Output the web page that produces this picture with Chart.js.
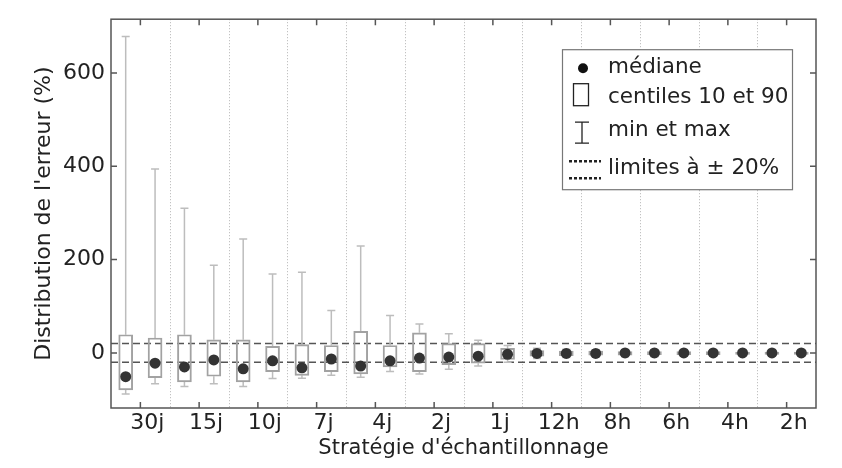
<!DOCTYPE html>
<html>
<head>
<meta charset="utf-8">
<script src="https://cdn.jsdelivr.net/npm/chart.js@4.4.1/dist/chart.umd.min.js"></script>
<style>
  html, body { margin: 0; padding: 0; background: #fff; }
</style>
</head>
<body>
<canvas id="errChart" width="842" height="468"></canvas>
<script>
const strategies = ['30j', '15j', '10j', '7j', '4j', '2j', '1j', '12h', '8h', '6h', '4h', '2h']
const yTicks = [0, 200, 400, 600]
const limits = [-20, 20]

// boîte de gauche de chaque paire
const maxA = [678, 310, 244, 173, 229, 62, 27, 10, 7, 6, 6, 5]
const p90A = [39, 39, 28, 18, 46, 43, 20, 5, 4, 3, 3, 2]
const medA = [-51, -30, -34, -32, -28, -11, -7, -1, -1, 0, 0, 0]
const p10A = [-79, -62, -62, -48, -45, -40, -22, -7, -5, -4, -4, -3]
const minA = [-88, -72, -72, -54, -52, -45, -28, -12, -9, -8, -7, -6]

// boîte de droite de chaque paire
const maxB = [394, 188, 169, 91, 80, 41, 16, 8, 7, 6, 5, 5]
const p90B = [32, 28, 14, 16, 16, 20, 10, 4, 3, 3, 2, 2]
const medB = [-22, -15, -17, -13, -17, -9, -3, -1, 0, 0, 0, 0]
const p10B = [-53, -50, -40, -40, -30, -25, -14, -6, -5, -4, -3, -3]
const minB = [-66, -66, -55, -48, -40, -35, -20, -10, -8, -7, -6, -6]

const posA = strategies.map((_, i) => 2 * i + 0.5)
const posB = strategies.map((_, i) => 2 * i + 1.5)

const boxColor = '#a2a2a2'
const whiskerColor = '#bdbdbd'
const medianColor = '#333333'
const txtFont = "'DejaVu Sans', Verdana, sans-serif"

function boxData(pos, lo, hi) {
  return pos.map((x, i) => ({ x: x, y: [lo[i], hi[i]] }))
}
function pointData(pos, vals) {
  return pos.map((x, i) => ({ x: x, y: vals[i] }))
}

const boxExtras = {
  id: 'boxExtras',
  beforeDatasetsDraw(chart) {
    const { ctx, chartArea: a } = chart
    const xs = chart.scales.x
    const ys = chart.scales.y
    ctx.save()
    // séparateurs pointillés entre les stratégies
    ctx.setLineDash([1, 2])
    ctx.strokeStyle = '#b4b4b4'
    ctx.lineWidth = 1
    for (let v = 2; v < 24; v += 2) {
      const px = Math.round(xs.getPixelForValue(v)) + 0.5
      ctx.beginPath(); ctx.moveTo(px, a.top); ctx.lineTo(px, a.bottom); ctx.stroke()
    }
    // limites à ±20%
    ctx.setLineDash([7, 4])
    ctx.strokeStyle = '#555'
    ctx.lineWidth = 1.5
    limits.forEach(l => {
      const py = ys.getPixelForValue(l)
      ctx.beginPath(); ctx.moveTo(a.left, py); ctx.lineTo(a.right, py); ctx.stroke()
    })
    // moustaches min / max
    ctx.setLineDash([])
    ctx.strokeStyle = whiskerColor
    ctx.lineWidth = 1.5
    const drawWhisk = (pos, mn, lo, hi, mx) => {
      pos.forEach((v, i) => {
        const px = xs.getPixelForValue(v)
        const yMax = ys.getPixelForValue(mx[i]), yHi = ys.getPixelForValue(hi[i])
        const yLo = ys.getPixelForValue(lo[i]), yMin = ys.getPixelForValue(mn[i])
        ctx.beginPath()
        ctx.moveTo(px, yMax); ctx.lineTo(px, yHi)
        ctx.moveTo(px, yLo); ctx.lineTo(px, yMin)
        ctx.moveTo(px - 4, yMax); ctx.lineTo(px + 4, yMax)
        ctx.moveTo(px - 4, yMin); ctx.lineTo(px + 4, yMin)
        ctx.stroke()
      })
    }
    drawWhisk(posA, minA, p10A, p90A, maxA)
    drawWhisk(posB, minB, p10B, p90B, maxB)
    ctx.restore()
  },
  afterDraw(chart) {
    const { ctx, chartArea: a } = chart
    const xs = chart.scales.x
    const ys = chart.scales.y
    ctx.save()
    // cadre et graduations intérieures
    ctx.strokeStyle = '#555'
    ctx.lineWidth = 1.5
    ctx.strokeRect(a.left, a.top, a.right - a.left, a.bottom - a.top)
    ctx.beginPath()
    strategies.forEach((_, i) => {
      const px = xs.getPixelForValue(2 * i + 1)
      ctx.moveTo(px, a.top); ctx.lineTo(px, a.top + 6)
      ctx.moveTo(px, a.bottom); ctx.lineTo(px, a.bottom - 6)
    })
    yTicks.forEach(v => {
      const py = ys.getPixelForValue(v)
      ctx.moveTo(a.left, py); ctx.lineTo(a.left + 6, py)
      ctx.moveTo(a.right, py); ctx.lineTo(a.right - 6, py)
    })
    ctx.stroke()

    // légende
    const lx = a.right - 254, ly = a.top + 30
    ctx.fillStyle = '#fff'
    ctx.fillRect(lx, ly, 230, 140)
    ctx.strokeStyle = '#777'
    ctx.lineWidth = 1.2
    ctx.strokeRect(lx + 0.5, ly + 0.5, 230, 140)
    ctx.fillStyle = '#111'
    ctx.beginPath(); ctx.arc(lx + 21, ly + 19, 5, 0, Math.PI * 2); ctx.fill()
    ctx.strokeStyle = '#222'
    ctx.lineWidth = 1.3
    ctx.strokeRect(lx + 11.5, ly + 34.5, 15, 22)
    ctx.beginPath()
    ctx.moveTo(lx + 20, ly + 73); ctx.lineTo(lx + 20, ly + 94)
    ctx.moveTo(lx + 13, ly + 73); ctx.lineTo(lx + 27, ly + 73)
    ctx.moveTo(lx + 13, ly + 94); ctx.lineTo(lx + 27, ly + 94)
    ctx.stroke()
    ctx.setLineDash([3, 2])
    ctx.lineWidth = 2.5
    ctx.beginPath()
    ctx.moveTo(lx + 7, ly + 112); ctx.lineTo(lx + 39, ly + 112)
    ctx.moveTo(lx + 7, ly + 129); ctx.lineTo(lx + 39, ly + 129)
    ctx.stroke()
    ctx.setLineDash([])
    ctx.fillStyle = '#222'
    ctx.font = "21.5px 'DejaVu Sans', Verdana, sans-serif"
    ctx.textBaseline = 'middle'
    ctx.textAlign = 'left'
    ctx.fillText('médiane', lx + 46, ly + 18)
    ctx.fillText('centiles 10 et 90', lx + 46, ly + 48)
    ctx.fillText('min et max', lx + 46, ly + 81)
    ctx.fillText('limites à ± 20%', lx + 46, ly + 119)
    ctx.restore()
  }
}

const boxStyle = {
  type: 'bar',
  grouped: false,
  backgroundColor: 'rgba(0,0,0,0)',
  borderColor: boxColor,
  borderWidth: 1.3,
  borderSkipped: false,
  barThickness: 14
}
const medStyle = {
  type: 'line',
  showLine: false,
  pointRadius: 5.5,
  pointBackgroundColor: medianColor,
  pointBorderColor: medianColor,
  pointBorderWidth: 0
}

new Chart(document.getElementById('errChart'), {
  type: 'bar',
  data: {
    datasets: [
      { ...medStyle, label: 'médiane A', data: pointData(posA, medA), order: 0 },
      { ...medStyle, label: 'médiane B', data: pointData(posB, medB), order: 0 },
      { ...boxStyle, label: 'centiles A', data: boxData(posA, p10A, p90A), order: 1 },
      { ...boxStyle, label: 'centiles B', data: boxData(posB, p10B, p90B), order: 1 },
    ],
  },
  options: {
    responsive: false,
    animation: false,
    layout: { padding: { top: 13, right: 26, left: 0, bottom: 0 } },
    plugins: { legend: { display: false }, tooltip: { enabled: false } },
    scales: {
      x: {
        type: 'linear',
        min: 0,
        max: 24,
        offset: false,
        grid: { display: false, drawTicks: false },
        border: { display: false },
        afterBuildTicks: s => { s.ticks = strategies.map((_, i) => ({ value: 2 * i + 1 })) },
        afterFit: s => { s.height = 60 },
        ticks: {
          callback: (v, i) => strategies[i],
          autoSkip: false,
          maxRotation: 0,
          labelOffset: 7,
          padding: 2,
          color: '#222',
          font: { family: txtFont, size: 22 },
        },
        title: {
          display: true,
          text: "Stratégie d'échantillonnage",
          color: '#222',
          font: { family: txtFont, size: 21 },
          padding: { top: 0, bottom: 7 },
        },
      },
      y: {
        min: -118,
        max: 715,
        grid: { display: false, drawTicks: false },
        border: { display: false },
        afterBuildTicks: s => { s.ticks = yTicks.map(v => ({ value: v })) },
        afterFit: s => { s.width = 111 },
        ticks: {
          padding: 6,
          color: '#222',
          font: { family: txtFont, size: 22 },
        },
        title: {
          display: true,
          text: "Distribution de l'erreur (%)",
          color: '#222',
          font: { family: txtFont, size: 22 },
          padding: { top: 31, bottom: 0 },
        },
      },
    },
  },
  plugins: [boxExtras],
})
</script>
</body>
</html>
